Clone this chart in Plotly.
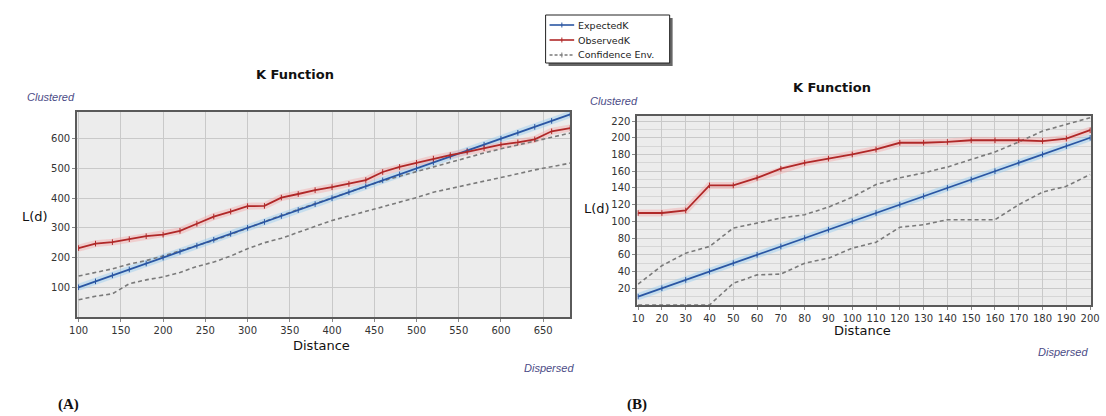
import plotly.graph_objects as go

W, H = 1106, 416

# ---------------- Data: panel A ----------------
dist_a = [100, 120, 140, 160, 180, 200, 220, 240, 260, 280, 300, 320, 340, 360, 380,
          400, 420, 440, 460, 480, 500, 520, 540, 560, 580, 600, 620, 640, 660, 682]
expected_a = [100, 120, 140, 160, 180, 200, 220, 240, 260, 280, 300, 320, 340, 360, 380,
              400, 420, 440, 460, 480, 500, 520, 540, 560, 580, 600, 620, 640, 660, 682]
observed_a = [232, 247, 252, 262, 272, 277, 290, 314, 338, 355, 373, 374, 402, 414, 427,
              437, 448, 461, 488, 505, 519, 533, 545, 556, 568, 580, 588, 598, 625, 636]
upper_a = [138, 150, 162, 178, 190, 205, 222, 240, 258, 278, 300, 320, 342, 362, 382,
           402, 420, 440, 458, 474, 490, 506, 522, 537, 552, 566, 580, 592, 605, 619]
lower_a = [58, 70, 78, 112, 125, 135, 150, 170, 185, 205, 230, 250, 265, 285, 305,
           325, 340, 355, 370, 385, 402, 420, 432, 445, 458, 470, 482, 495, 507, 518]
xticks_a = [100, 150, 200, 250, 300, 350, 400, 450, 500, 550, 600, 650]
yticks_a = [100, 200, 300, 400, 500, 600]

# ---------------- Data: panel B ----------------
dist_b = [10, 20, 30, 40, 50, 60, 70, 80, 90, 100, 110, 120, 130, 140, 150, 160, 170, 180, 190, 200]
expected_b = [10, 20, 30, 40, 50, 60, 70, 80, 90, 100, 110, 120, 130, 140, 150, 160, 170, 180, 190, 200]
observed_b = [110, 110, 113, 143, 143, 152, 163, 170, 175, 180, 186, 194, 194, 195, 197, 197, 197, 196, 199, 209]
upper_b = [25, 47, 62, 70, 92, 98, 104, 108, 117, 129, 144, 152, 158, 165, 174, 183, 195, 208, 216, 224]
lower_b = [0, 0, 0, 0, 26, 36, 37, 50, 56, 68, 75, 93, 96, 102, 102, 102, 120, 135, 142, 156]
xticks_b = [10, 20, 30, 40, 50, 60, 70, 80, 90, 100, 110, 120, 130, 140, 150, 160, 170, 180, 190, 200]
yticks_b = [20, 40, 60, 80, 100, 120, 140, 160, 180, 200, 220]

legend_names = ["ExpectedK", "ObservedK", "Confidence Env."]

BLUE = "#2a56a3"
RED = "#b02828"
GRAY = "#7a7a7a"
BLUE_HALO = "rgba(150,205,240,0.45)"
RED_HALO = "rgba(245,170,170,0.45)"
FONT = "DejaVu Sans"
DASH = "4px,3px"


def xp(x):
    return x / W


def yp(y):
    return 1 - y / H


fig = go.Figure()


def add_panel(xa, ya, d, exp, obs, up, lo):
    fig.add_trace(go.Scatter(x=d, y=exp, mode="lines", line=dict(color=BLUE_HALO, width=7),
                             xaxis=xa, yaxis=ya, showlegend=False, hoverinfo="skip"))
    fig.add_trace(go.Scatter(x=d, y=obs, mode="lines", line=dict(color=RED_HALO, width=7),
                             xaxis=xa, yaxis=ya, showlegend=False, hoverinfo="skip"))
    mk = dict(symbol="line-ns-open", size=4, line=dict(width=1))
    for series in (up, lo):
        fig.add_trace(go.Scatter(x=d, y=series, mode="lines", name=legend_names[2],
                                 line=dict(color=GRAY, width=1.6, dash=DASH),
                                 xaxis=xa, yaxis=ya, showlegend=False))
    fig.add_trace(go.Scatter(x=d, y=exp, mode="lines+markers", name=legend_names[0],
                             line=dict(color=BLUE, width=1.8), marker=dict(color=BLUE, **mk),
                             xaxis=xa, yaxis=ya, showlegend=False))
    fig.add_trace(go.Scatter(x=d, y=obs, mode="lines+markers", name=legend_names[1],
                             line=dict(color=RED, width=1.8), marker=dict(color=RED, **mk),
                             xaxis=xa, yaxis=ya, showlegend=False))


add_panel("x", "y", dist_a, expected_a, observed_a, upper_a, lower_a)
add_panel("x2", "y2", dist_b, expected_b, observed_b, upper_b, lower_b)

axis_common = dict(showline=True, linecolor="#5a5a5a", linewidth=1.5, mirror=True,
                   gridcolor="#c9c9c9", gridwidth=1, zeroline=False,
                   ticks="outside", ticklen=3, tickcolor="#888",
                   tickfont=dict(family=FONT, size=10, color="#333"))

fig.update_layout(
    width=W, height=H,
    margin=dict(l=0, r=0, t=0, b=0),
    paper_bgcolor="white",
    plot_bgcolor="#ececec",
    showlegend=False,
    xaxis=dict(domain=[xp(70), xp(571)], range=[98, 682], tickvals=xticks_a,
               anchor="y", **axis_common),
    yaxis=dict(domain=[yp(317), yp(112)], range=[0, 690], tickvals=yticks_a,
               anchor="x", **axis_common),
    xaxis2=dict(domain=[xp(639), xp(1100)], range=[9.6, 200.4], tickvals=xticks_b,
                anchor="y2", ticklabeloverflow="allow", **axis_common),
    yaxis2=dict(domain=[yp(305), yp(116)], range=[0, 226], tickvals=yticks_b,
                anchor="x2", minor=dict(dtick=10, showgrid=True, gridcolor="#d6d6d6"),
                **axis_common),
)


def txt(x, y, s, size, xanchor="center", color="#111", family=FONT, bold=False, italic=False):
    t = s
    if bold:
        t = "<b>" + t + "</b>"
    if italic:
        t = "<i>" + t + "</i>"
    fig.add_annotation(x=xp(x), y=yp(y), xref="paper", yref="paper", text=t, showarrow=False,
                       xanchor=xanchor, yanchor="middle", borderpad=0,
                       font=dict(family=family, size=size, color=color))


# ---------------- manual legend box ----------------
LX0, LX1, LY0, LY1 = 546, 672, 15, 63
fig.add_shape(type="rect", xref="paper", yref="paper",
              x0=xp(LX0 + 3), x1=xp(LX1 + 3), y0=yp(LY1 + 3), y1=yp(LY0 + 3),
              line=dict(width=0), fillcolor="#666")
fig.add_shape(type="rect", xref="paper", yref="paper",
              x0=xp(LX0), x1=xp(LX1), y0=yp(LY1), y1=yp(LY0),
              line=dict(color="#222", width=1), fillcolor="white")
legend_colors = [BLUE, RED, GRAY]
legend_dash = ["solid", "solid", "3px,2px"]
for i, (nm, col, ds) in enumerate(zip(legend_names, legend_colors, legend_dash)):
    yy = 25 + i * 15
    fig.add_shape(type="line", xref="paper", yref="paper",
                  x0=xp(550), x1=xp(575), y0=yp(yy), y1=yp(yy),
                  line=dict(color=col, width=1.6, dash=ds))
    fig.add_shape(type="line", xref="paper", yref="paper",
                  x0=xp(562.5), x1=xp(562.5), y0=yp(yy - 2.5), y1=yp(yy + 2.5),
                  line=dict(color=col, width=1))
    txt(578, yy, nm, 9.5, xanchor="left", color="#222")

# titles
txt(291, 74, "K Function", 13, bold=True)
txt(837, 87, "K Function", 13, bold=True)
# clustered / dispersed
CL = "#4b4b86"
txt(18, 97, "Clustered", 11, xanchor="left", color=CL, family="Liberation Sans", italic=True)
txt(590, 101, "Clustered", 11, xanchor="left", color=CL, family="Liberation Sans", italic=True)
txt(576, 368, "Dispersed", 11, xanchor="right", color=CL, family="Liberation Sans", italic=True)
txt(1098, 352, "Dispersed", 11, xanchor="right", color=CL, family="Liberation Sans", italic=True)
# axis titles
txt(27, 216, "L(d)", 13)
txt(598, 208, "L(d)", 13)
txt(318, 345, "Distance", 13)
txt(868, 330, "Distance", 13)
# panel labels
txt(50, 404, "(A)", 15, xanchor="left", family="Liberation Serif", bold=True)
txt(628, 404, "(B)", 15, xanchor="left", family="Liberation Serif", bold=True)

fig.write_html("out.html", config={"displayModeBar": False},
               post_script="document.body.style.margin='0px';")
